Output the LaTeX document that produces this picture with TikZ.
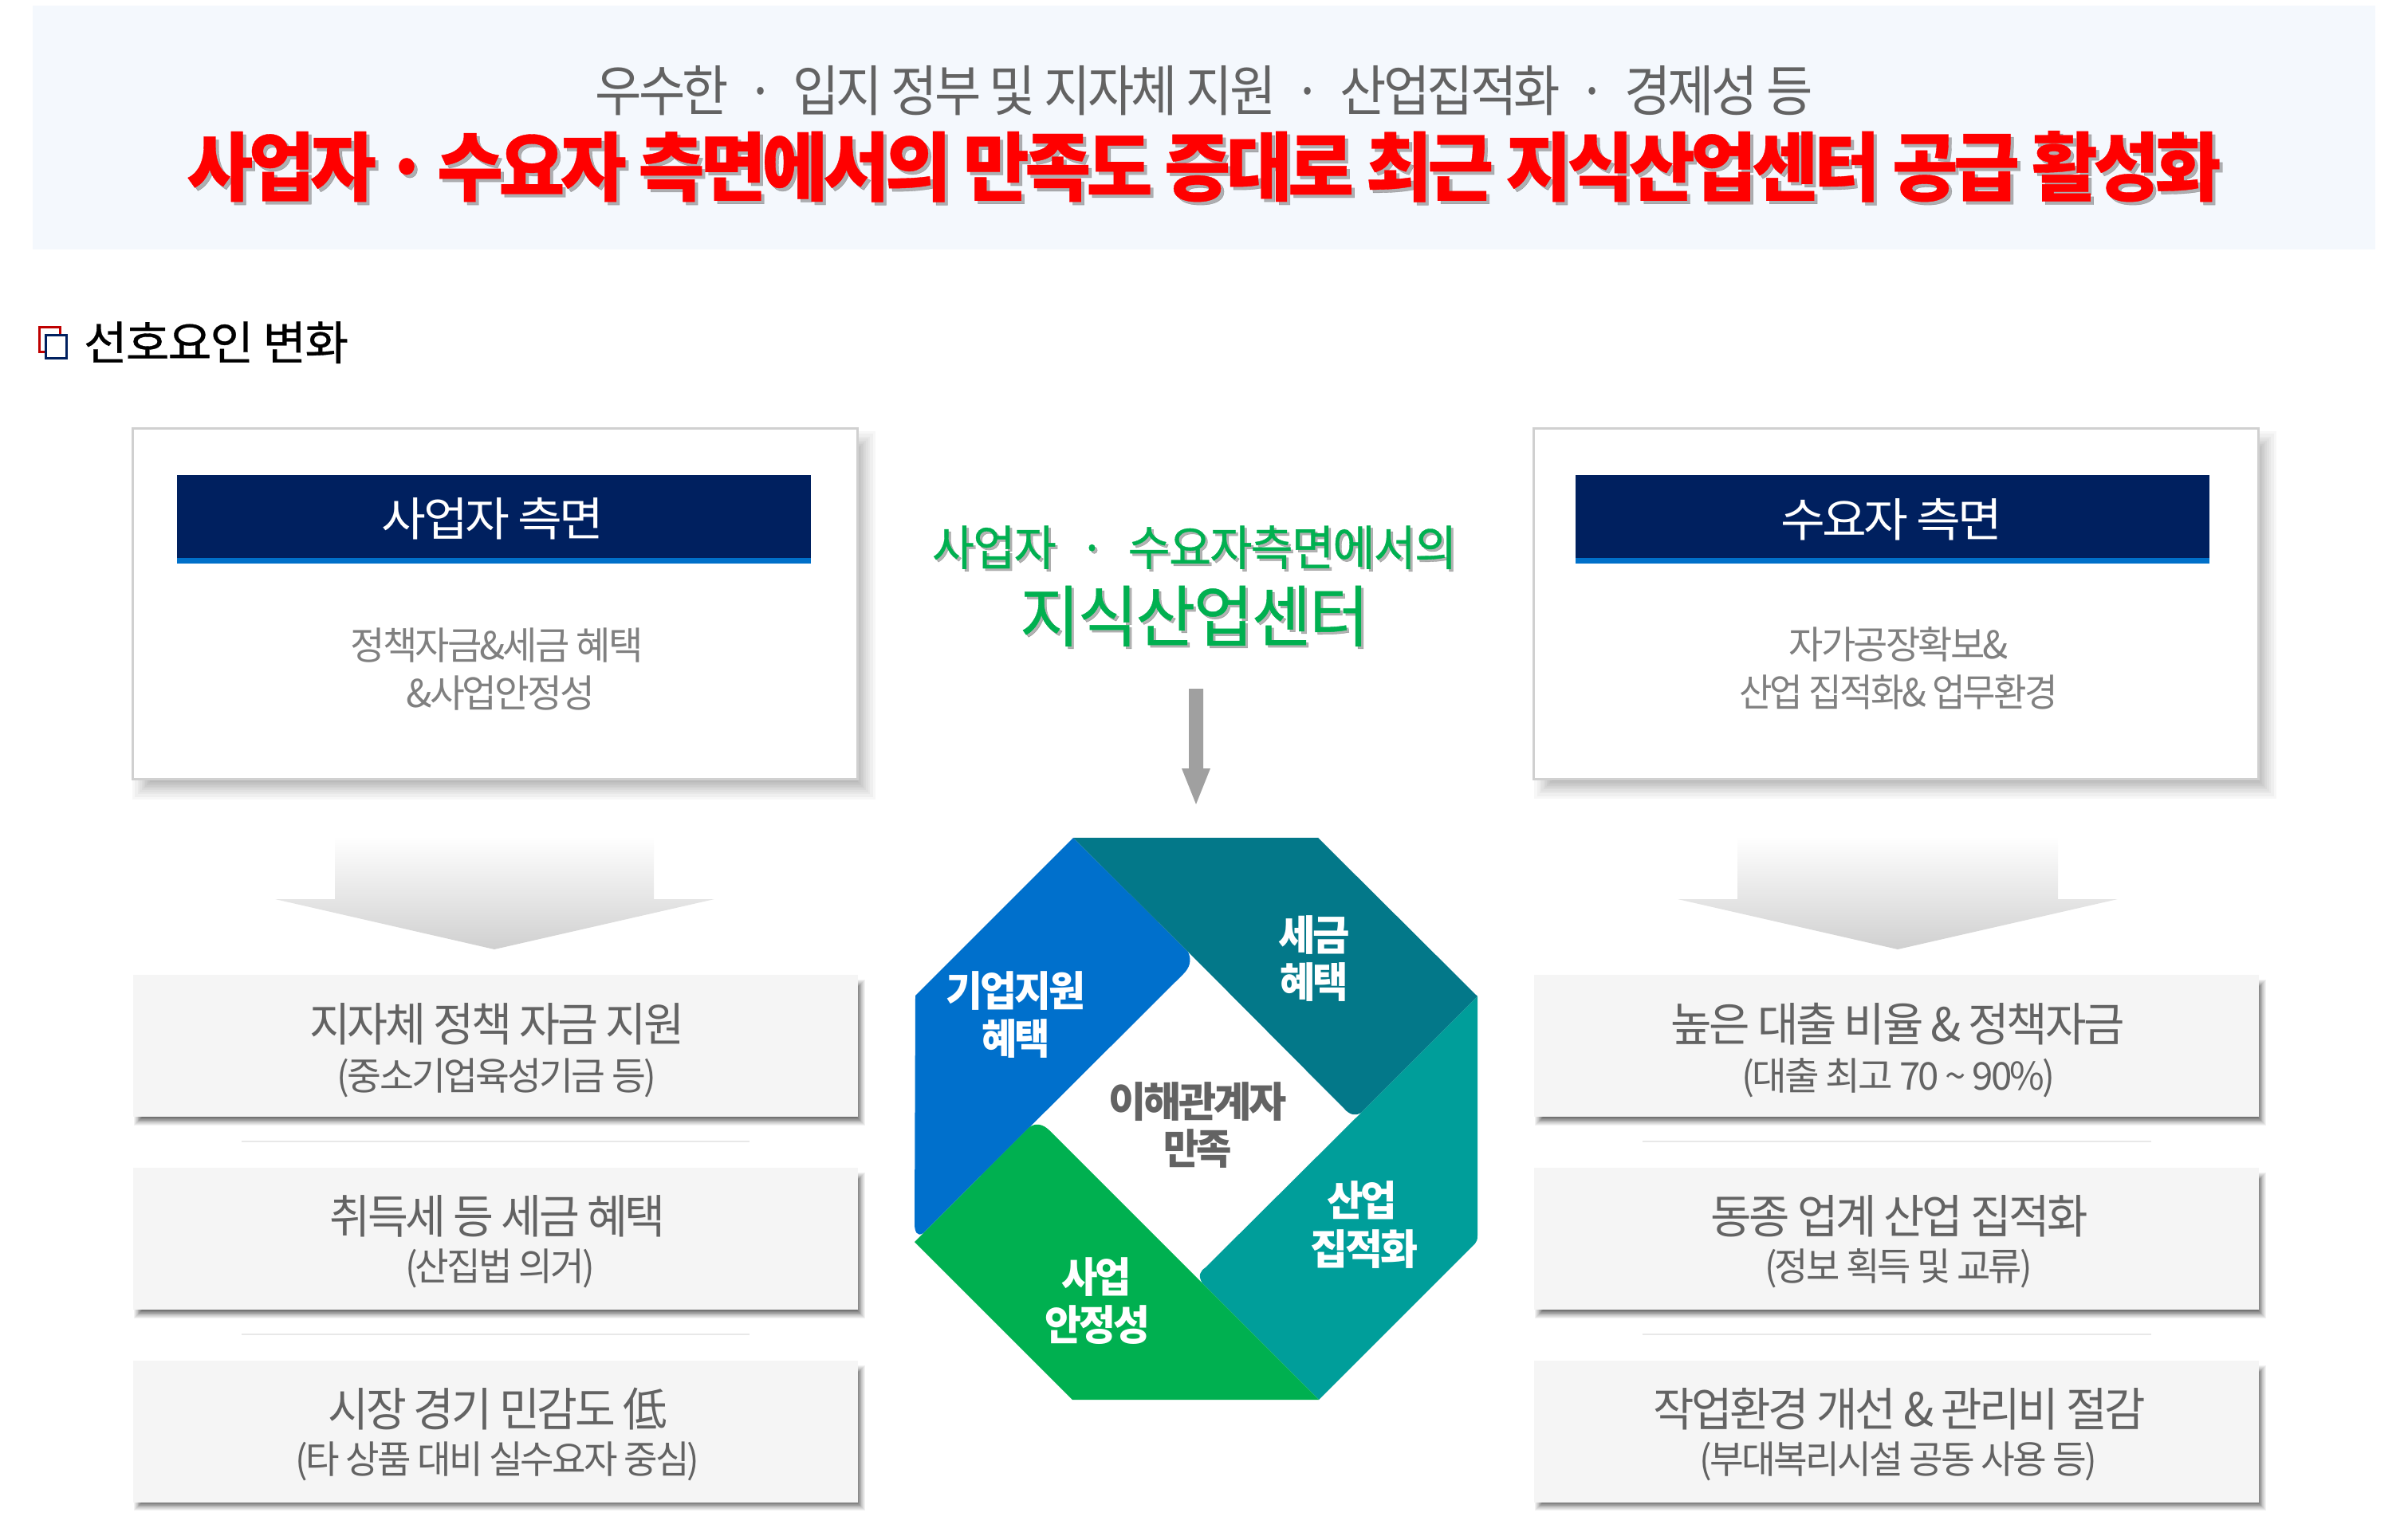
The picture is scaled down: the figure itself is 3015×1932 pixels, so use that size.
\documentclass[tikz,border=0pt]{standalone}
\usepackage{graphicx}
\usepackage{fontspec}
\setmainfont[LetterSpace=-6]{Noto Sans CJK KR}
\newfontfamily\medfont[LetterSpace=-3,FakeBold=0.6]{Noto Sans CJK KR}
\newfontfamily\heavyfont[LetterSpace=-6,BoldFeatures={FakeBold=0.4}]{Noto Sans CJK KR}
\definecolor{band}{HTML}{F4F8FD}
\definecolor{navy}{HTML}{00205F}
\definecolor{strip}{HTML}{0070C9}
\definecolor{txtgray}{HTML}{636363}
\definecolor{bodygray}{HTML}{808080}
\definecolor{boxfill}{HTML}{F5F5F5}
\definecolor{cardline}{HTML}{D0D0D0}
\definecolor{divline}{HTML}{E8E8E8}
\definecolor{octblue}{HTML}{0070CC}
\definecolor{octdeep}{HTML}{037889}
\definecolor{octteal}{HTML}{009E9A}
\definecolor{octgreen}{HTML}{00B050}
\definecolor{arrowgray}{HTML}{A0A0A0}
\definecolor{fadeend}{HTML}{D0D0D0}
\newcommand{\lbl}[7]{\pgfmathsetmacro\by{#3+0.385*#4}\node[lbltxt,#6] (#1) at (#2,\by) {\fontsize{#4}{#4}\selectfont\resizebox{#5pt}{\height}{#7}};}
\newcommand{\softshadow}[6]{\foreach \i in {1,...,16}{\pgfmathsetmacro\r{#5*(1-2*pow(\i/16,0.6))}\fill[black,opacity=#6] ({#1-\r},{#2-\r}) rectangle ({#3+\r},{#4+\r});}}
\newcommand{\gapdot}[1]{\hspace{#1}·\hspace{#1}}
\tikzset{
  lbltxt/.style={anchor=base,inner sep=0pt,outer sep=0pt},
  cardbox/.style={draw=cardline,line width=3pt,fill=white,minimum width=909pt,minimum height=440pt,inner sep=0pt},
  headbox/.style={fill=navy,minimum width=795pt,minimum height=104pt,inner sep=0pt},
  stripbox/.style={fill=strip,minimum width=795pt,minimum height=7pt,inner sep=0pt},
  itembox/.style={fill=boxfill,minimum width=909pt,minimum height=178pt,inner sep=0pt},
  divider/.style={draw=divline,line width=2.5pt},
  fadearrow/.style={top color=white,bottom color=fadeend},
  main/.style={text=txtgray},
  body/.style={text=bodygray},
  onoct/.style={text=white,font=\bfseries},
  sheen/.style={text=black!55,opacity=.55},
}
\begin{document}
\begin{tikzpicture}[x=1pt,y=-1pt]
\useasboundingbox (0,0) rectangle (3015,1932);
% top band
\node[fill=band,minimum width=2938pt,minimum height=306pt,inner sep=0pt] (bandbox) at (1510,160) {};
\lbl{topline}{1510}{113}{69}{1527}{main}{우수한\gapdot{.35em}입지 정부 및 지자체 지원\gapdot{.35em}산업집적화\gapdot{.35em}경제성 등}
\lbl{redsh}{1514}{212}{94}{2551}{sheen,font=\heavyfont\bfseries}{사업자\gapdot{.12em}수요자 측면에서의 만족도 증대로 최근 지식산업센터 공급 활성화}
\lbl{redline}{1510}{208}{94}{2551}{text=red,font=\heavyfont\bfseries}{사업자\gapdot{.12em}수요자 측면에서의 만족도 증대로 최근 지식산업센터 공급 활성화}
% section heading
\node[draw=red!75!black,line width=3pt,minimum width=26pt,minimum height=31pt,inner sep=0pt] (iconred) at (62,426) {};
\node[draw=navy,line width=3pt,fill=white,minimum width=26pt,minimum height=29pt,inner sep=0pt] (iconnavy) at (70,435) {};
\lbl{heading}{271}{429}{58}{332}{text=black,font=\medfont}{선호요인 변화}
% cards
\softshadow{178}{553}{1086}{991}{20}{.03}
\softshadow{1936}{553}{2843}{990}{20}{.03}
\node[cardbox] (cardL) at (621,757) {};
\node[cardbox] (cardR) at (2378,757) {};
\node[headbox] (headL) at (619.5,648) {};
\node[headbox] (headR) at (2373,648) {};
\node[stripbox] (stripL) at (619.5,703.5) {};
\node[stripbox] (stripR) at (2373,703.5) {};
\lbl{headtxtL}{618}{650}{58}{278}{text=white}{사업자 측면}
\lbl{headtxtR}{2372}{651}{58}{278}{text=white}{수요자 측면}
\lbl{bodyL1}{623}{809}{48}{367}{body}{정책자금\&세금 혜택}
\lbl{bodyL2}{628}{869}{48}{237}{body}{\&사업안정성}
\lbl{bodyR1}{2381}{808}{48}{275}{body}{자가공장확보\&}
\lbl{bodyR2}{2381}{868}{48}{400}{body}{산업 집적화\& 업무환경}
% wide arrows
\shade[fadearrow] (420,1049) -- (820,1049) -- (820,1128) -- (896,1128) -- (620,1191) -- (345,1128) -- (420,1128) -- cycle;
\shade[fadearrow] (2179,1049) -- (2581,1049) -- (2581,1128) -- (2656,1128) -- (2380,1191) -- (2104,1128) -- (2179,1128) -- cycle;
% item shadows
\foreach \x/\xx in {172/1081,1929/2838}{
  \foreach \t/\b in {1233/1408,1475/1650,1717/1891}{
    \softshadow{\x}{\t}{\xx}{\b}{6}{.05}
  }
}
% item boxes
\node[itembox] (boxL1) at (621.5,1312) {};
\node[itembox] (boxL2) at (621.5,1554) {};
\node[itembox] (boxL3) at (621.5,1795.5) {};
\node[itembox] (boxR1) at (2378,1312) {};
\node[itembox] (boxR2) at (2378,1554) {};
\node[itembox] (boxR3) at (2378,1795.5) {};
\draw[divider] (303,1432) -- (940,1432);
\draw[divider] (303,1674) -- (940,1674);
\draw[divider] (2060,1432) -- (2698,1432);
\draw[divider] (2060,1674) -- (2698,1674);
% item text
\lbl{L1a}{623}{1284}{58}{470}{main}{지자체 정책 자금 지원}
\lbl{L1b}{623}{1349}{48}{400}{main}{(중소기업육성기금 등)}
\lbl{L2a}{624}{1525}{58}{421}{main}{취득세 등 세금 혜택}
\lbl{L2b}{627}{1588}{48}{238}{main}{(산집법 의거)}
\lbl{L3a}{624}{1767}{58}{425}{main}{시장 경기 민감도 低}
\lbl{L3b}{624}{1830}{48}{507}{main}{(타 상품 대비 실수요자 중심)}
\lbl{R1a}{2380}{1284}{58}{569}{main}{높은 대출 비율 \& 정책자금}
\lbl{R1b}{2381}{1349}{48}{393}{main}{(대출 최고 70 \textasciitilde\ 90\%)}
\lbl{R2a}{2382}{1525}{58}{473}{main}{동종 업계 산업 집적화}
\lbl{R2b}{2381}{1588}{48}{336}{main}{(정보 획득 및 교류)}
\lbl{R3a}{2382}{1767}{58}{618}{main}{작업환경 개선 \& 관리비 절감}
\lbl{R3b}{2381}{1830}{48}{499}{main}{(부대복리시설 공동 사용 등)}
% centre headline
\lbl{gr1sh}{1501}{689}{60}{658}{sheen,font=\medfont}{사업자\gapdot{.5em}수요자측면에서의}
\lbl{gr1}{1498}{686}{60}{658}{text=octgreen,font=\medfont}{사업자\gapdot{.5em}수요자측면에서의}
\lbl{gr2sh}{1501}{775}{84}{438}{sheen,font=\medfont}{지식산업센터}
\lbl{gr2}{1498}{772}{84}{438}{text=octgreen,font=\medfont}{지식산업센터}
\fill[arrowgray] (1491,864) -- (1509,864) -- (1509,964) -- (1518,964) -- (1500,1009) -- (1482,964) -- (1491,964) -- cycle;
% octagon
\fill[octblue] (1346,1051) -- (1148,1249) -- (1147,1535) .. controls (1147,1545) and (1150,1552) .. (1158,1547) -- (1484,1222) .. controls (1492,1214) and (1495,1205) .. (1490,1194) -- cycle;
\fill[octdeep] (1346,1051) -- (1653,1051) -- (1853,1250) -- (1707,1396) .. controls (1700,1400) and (1693,1399) .. (1686,1391) -- (1490,1194) -- cycle;
\fill[octteal] (1853,1250) -- (1853,1550) .. controls (1853,1555) and (1852,1558) .. (1850,1560) -- (1654,1756) -- (1508,1610) .. controls (1502,1600) and (1505,1595) .. (1512,1590) -- (1707,1396) -- cycle;
\fill[octgreen] (1147,1558) -- (1290,1415) .. controls (1298,1408) and (1308,1410) .. (1316,1418) -- (1508,1610) -- (1654,1756) -- (1345,1756) -- cycle;
\lbl{oa1}{1274}{1242}{52}{175}{onoct}{기업지원}
\lbl{oa2}{1274}{1302}{52}{86}{onoct}{혜택}
\lbl{ob1}{1648}{1172}{52}{90}{onoct}{세금}
\lbl{ob2}{1648}{1231}{52}{86}{onoct}{혜택}
\lbl{oc1}{1708}{1505}{52}{88}{onoct}{산업}
\lbl{oc2}{1711}{1566}{52}{135}{onoct}{집적화}
\lbl{od1}{1375}{1601}{52}{88}{onoct}{사업}
\lbl{od2}{1376}{1661}{52}{132}{onoct}{안정성}
\lbl{oe1}{1502}{1381}{52}{224}{text=txtgray,font=\bfseries}{이해관계자}
\lbl{oe2}{1502}{1440}{52}{86}{text=txtgray,font=\bfseries}{만족}
\end{tikzpicture}
\end{document}
